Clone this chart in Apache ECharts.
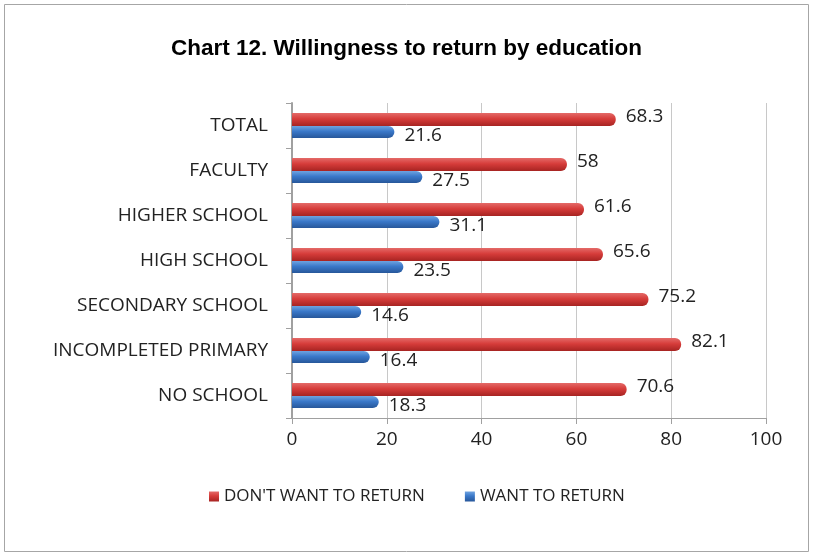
<!DOCTYPE html>
<html>
<head>
<meta charset="utf-8">
<script src="https://cdn.jsdelivr.net/npm/echarts@6/dist/echarts.min.js"></script>
<style>
  html, body { margin: 0; padding: 0; background: #fff; }
  #chart { width: 813px; height: 556px; }
</style>
</head>
<body>
<div id="chart"></div>
<script>
  // categories listed bottom to top (category axis starts at the bottom)
  const categories = ['NO SCHOOL', 'INCOMPLETED PRIMARY', 'SECONDARY SCHOOL', 'HIGH SCHOOL', 'HIGHER SCHOOL', 'FACULTY', 'TOTAL'];
  const dontWant = [70.6, 82.1, 75.2, 65.6, 61.6, 58, 68.3];
  const want = [18.3, 16.4, 14.6, 23.5, 31.1, 27.5, 21.6];
  const xTicks = [0, 20, 40, 60, 80, 100];

  const chart = echarts.init(document.getElementById('chart'));

  const redFill = new echarts.graphic.LinearGradient(0, 0, 0, 1, [
    { offset: 0, color: '#e46a68' },
    { offset: 0.45, color: '#d63c3a' },
    { offset: 1, color: '#a72422' }
  ]);
  const blueFill = new echarts.graphic.LinearGradient(0, 0, 0, 1, [
    { offset: 0, color: '#6fa3e0' },
    { offset: 0.45, color: '#3a78c9' },
    { offset: 1, color: '#27579a' }
  ]);

  const labelStyle = {
    show: true,
    position: 'right',
    distance: 10,
    color: '#222',
    fontFamily: 'Open Sans',
    fontSize: 19
  };

  const option = {
    animation: false,
    textStyle: { fontFamily: 'Open Sans' },
    title: {
      text: 'Chart 12. Willingness to return by education',
      left: 'center',
      top: 32,
      textStyle: { fontFamily: 'Liberation Sans', fontWeight: 'bold', fontSize: 22.5, color: '#000' }
    },
    graphic: [{
      type: 'rect',
      shape: { x: 4.5, y: 4.5, width: 804, height: 547 },
      style: { fill: 'none', stroke: '#a6a6a6', lineWidth: 1 },
      silent: true
    }],
    legend: {
      data: ["DON'T WANT TO RETURN", 'WANT TO RETURN'],
      bottom: 46,
      left: 204,
      itemWidth: 10,
      itemHeight: 10,
      itemGap: 40,
      icon: 'rect',
      textStyle: { fontFamily: 'Open Sans', fontSize: 17, color: '#222' }
    },
    grid: { left: 292, right: 47, top: 103, bottom: 138 },
    xAxis: {
      type: 'value',
      min: xTicks[0],
      max: xTicks[xTicks.length - 1],
      interval: 20,
      axisLine: { show: true, lineStyle: { color: '#a0a0a0' } },
      axisTick: { show: true, length: 6, lineStyle: { color: '#a0a0a0' } },
      axisLabel: { margin: 12, color: '#222', fontFamily: 'Open Sans', fontSize: 19 },
      splitLine: { show: true, lineStyle: { color: '#c8c8c8' } }
    },
    yAxis: {
      type: 'category',
      data: categories,
      axisLine: { show: true, lineStyle: { color: '#a0a0a0', width: 2 } },
      axisTick: { show: true, length: 6, lineStyle: { color: '#a0a0a0' } },
      axisLabel: { margin: 24, color: '#222', fontFamily: 'Open Sans', fontSize: 19 }
    },
    series: [
      {
        name: "DON'T WANT TO RETURN",
        type: 'bar',
        data: dontWant,
        barWidth: 13,
        barGap: '0%',
        barCategoryGap: '40%',
        itemStyle: { color: redFill, borderRadius: [0, 6, 6, 0] },
        label: Object.assign({}, labelStyle, { offset: [0, -3] })
      },
      {
        name: 'WANT TO RETURN',
        type: 'bar',
        data: want,
        barWidth: 12,
        barGap: '0%',
        itemStyle: { color: blueFill, borderRadius: [0, 6, 6, 0] },
        label: Object.assign({}, labelStyle, { offset: [0, 4] })
      }
    ]
  };

  chart.setOption(option);
</script>
</body>
</html>
